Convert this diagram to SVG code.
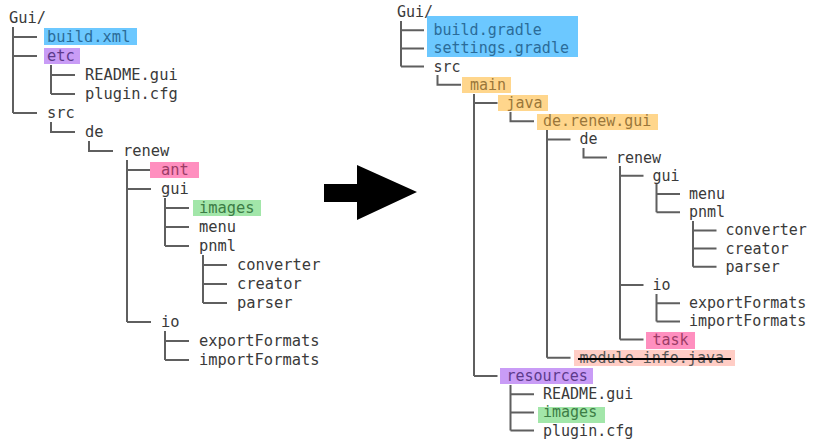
<svg xmlns="http://www.w3.org/2000/svg" width="821" height="444" viewBox="0 0 821 444">
<style>
text{font-family:"DejaVu Sans Mono","Liberation Mono",monospace;fill:#3a3a3a}
.l{font-size:15.4px}
.r{font-size:15px}
.c path{fill:none;stroke:#5f5f5f;stroke-width:2}
.blue{fill:#6cc8ff}.blueT{fill:#2b6c99}
.purp{fill:#c99cf6}.purpT{fill:#5d3a8c}
.pink{fill:#ff8fbf}.pinkT{fill:#9b3c66}
.grn{fill:#a2e6a9}.grnT{fill:#3c7d45}
.org{fill:#ffd68c}.orgT{fill:#9a763a}
.salm{fill:#ffcdc5}
</style>
<rect width="821" height="444" fill="#fff"/>
<!-- connectors -->
<g class="c" id="connectors">
<!-- left tree -->
<path d="M13 27V113M13 37H37M13 56H37M13 113H37"/>
<path d="M51 65V94M51 75H75M51 94H75"/>
<path d="M51 122V132H75"/>
<path d="M89 141V151H113"/>
<path d="M127 160V322M127 170H151M127 189H151M127 322H151"/>
<path d="M165 198V246M165 208H189M165 227H189M165 246H189"/>
<path d="M203 255V303M203 265H227M203 284H227M203 303H227"/>
<path d="M165 331V360M165 341H189M165 360H189"/>
<!-- right tree -->
<path d="M401 21V66.6M401 30.2H424M401 48.4H424M401 66.6H424"/>
<path d="M437.5 75V84.8H461"/>
<path d="M474 94V376M474 103H497.5M474 376H497.5"/>
<path d="M510.5 112V121.2H534"/>
<path d="M547 130V357.8M547 139.4H570.5M547 357.8H570.5"/>
<path d="M583.5 148V157.6H607"/>
<path d="M620 166V339.6M620 175.8H643.5M620 285H643.5M620 339.6H643.5"/>
<path d="M656.5 184V212.2M656.5 194H680M656.5 212.2H680"/>
<path d="M693 221V266.8M693 230.4H716.5M693 248.6H716.5M693 266.8H716.5"/>
<path d="M656.5 294V321.4M656.5 303.2H680M656.5 321.4H680"/>
<path d="M510.5 385V430.6M510.5 394.2H534M510.5 412.4H534M510.5 430.6H534"/>
</g>
<!-- arrow -->
<g id="arrow">
<path d="M324 184H357V165L417 192L357 220V202H324Z" fill="#000"/>
</g>
<!-- left tree nodes -->
<g id="L-gui"><text class="l" x="9" y="23">Gui/</text></g>
<g id="L-build"><rect class="blue" x="44" y="28" width="93" height="17"/><text class="l blueT" x="47" y="42">build.xml</text></g>
<g id="L-etc"><rect class="purp" x="44" y="48" width="36" height="16"/><text class="l purpT" x="47" y="61">etc</text></g>
<g id="L-readme"><text class="l" x="85" y="80">README.gui</text></g>
<g id="L-plugin"><text class="l" x="85" y="99">plugin.cfg</text></g>
<g id="L-src"><text class="l" x="47" y="118">src</text></g>
<g id="L-de"><text class="l" x="85" y="137">de</text></g>
<g id="L-renew"><text class="l" x="123" y="156">renew</text></g>
<g id="L-ant"><rect class="pink" x="150" y="162" width="49" height="16"/><text class="l pinkT" x="161" y="175">ant</text></g>
<g id="L-guipkg"><text class="l" x="161" y="194">gui</text></g>
<g id="L-images"><rect class="grn" x="193" y="200" width="68" height="16"/><text class="l grnT" x="199" y="213">images</text></g>
<g id="L-menu"><text class="l" x="199" y="232">menu</text></g>
<g id="L-pnml"><text class="l" x="199" y="251">pnml</text></g>
<g id="L-converter"><text class="l" x="237" y="270">converter</text></g>
<g id="L-creator"><text class="l" x="237" y="289">creator</text></g>
<g id="L-parser"><text class="l" x="237" y="308">parser</text></g>
<g id="L-io"><text class="l" x="161" y="327">io</text></g>
<g id="L-export"><text class="l" x="199" y="346">exportFormats</text></g>
<g id="L-import"><text class="l" x="199" y="365">importFormats</text></g>
<!-- right tree nodes -->
<g id="R-gui"><text class="r" x="397" y="17">Gui/</text></g>
<g id="R-gradle">
<rect class="blue" x="427" y="16" width="151" height="41"/>
<text class="r blueT" x="433.5" y="35.2">build.gradle</text>
<text class="r blueT" x="433.5" y="53.4">settings.gradle</text>
</g>
<g id="R-src"><text class="r" x="433.5" y="71.6">src</text></g>
<g id="R-main"><rect class="org" x="462" y="77" width="49" height="16"/><text class="r orgT" x="470" y="89.8">main</text></g>
<g id="R-java"><rect class="org" x="498" y="95" width="50" height="16"/><text class="r orgT" x="506.5" y="108">java</text></g>
<g id="R-derenewgui"><rect class="org" x="537" y="114" width="121" height="16"/><text class="r orgT" x="543" y="126.2">de.renew.gui</text></g>
<g id="R-de"><text class="r" x="579.5" y="144.4">de</text></g>
<g id="R-renew"><text class="r" x="616" y="162.6">renew</text></g>
<g id="R-guipkg"><text class="r" x="652.5" y="180.8">gui</text></g>
<g id="R-menu"><text class="r" x="689" y="199">menu</text></g>
<g id="R-pnml"><text class="r" x="689" y="217.2">pnml</text></g>
<g id="R-converter"><text class="r" x="725.5" y="235.4">converter</text></g>
<g id="R-creator"><text class="r" x="725.5" y="253.6">creator</text></g>
<g id="R-parser"><text class="r" x="725.5" y="271.8">parser</text></g>
<g id="R-io"><text class="r" x="652.5" y="290">io</text></g>
<g id="R-export"><text class="r" x="689" y="308.2">exportFormats</text></g>
<g id="R-import"><text class="r" x="689" y="326.4">importFormats</text></g>
<g id="R-task"><rect class="pink" x="646" y="332" width="49" height="17"/><text class="r pinkT" x="652.5" y="344.6">task</text></g>
<g id="R-module"><rect class="salm" x="574" y="350" width="161" height="16"/><text class="r" x="579.5" y="362.8" style="fill:#555">module-info.java</text><path d="M578 359H731" stroke="#000" stroke-width="2"/></g>
<g id="R-resources"><rect class="purp" x="500" y="368" width="93" height="16"/><text class="r purpT" x="506.5" y="381">resources</text></g>
<g id="R-readme"><text class="r" x="543" y="399.2">README.gui</text></g>
<g id="R-images"><rect class="grn" x="538" y="407" width="67" height="16"/><text class="r grnT" x="543" y="417.4">images</text></g>
<g id="R-plugin"><text class="r" x="543" y="435.6">plugin.cfg</text></g>
</svg>
